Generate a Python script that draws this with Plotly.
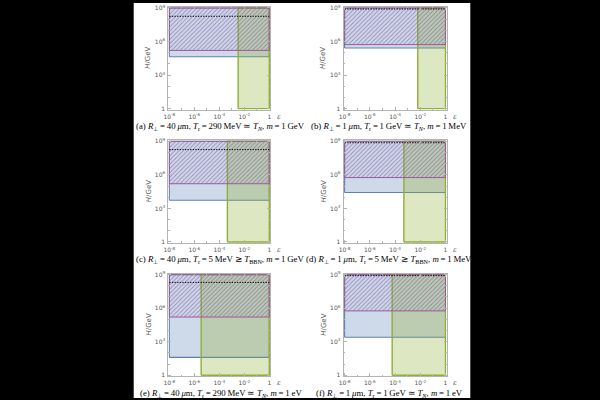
import plotly.graph_objects as go

# ---------------- data ----------------
panel_ids = ["a", "b", "c", "d", "e", "f"]
T = "\u2009"  # thin space
captions = [
    f"(a) <i>R</i><sub>⊥</sub>{T}={T}40{T}<i>μ</i>m, <i>T</i><sub>r</sub>{T}={T}290{T}MeV{T}≃{T}<i>T</i><sub><i>N</i></sub>, <i>m</i>{T}={T}1{T}GeV",
    f"(b) <i>R</i><sub>⊥</sub>{T}={T}1{T}<i>μ</i>m, <i>T</i><sub>r</sub>{T}={T}1{T}GeV{T}≃{T}<i>T</i><sub><i>N</i></sub>, <i>m</i>{T}={T}1{T}MeV",
    f"(c) <i>R</i><sub>⊥</sub>{T}={T}40{T}<i>μ</i>m, <i>T</i><sub>r</sub>{T}={T}5{T}MeV{T}≳{T}<i>T</i><sub>BBN</sub>, <i>m</i>{T}={T}1{T}GeV",
    f"(d) <i>R</i><sub>⊥</sub>{T}={T}1{T}<i>μ</i>m, <i>T</i><sub>r</sub>{T}={T}5{T}MeV{T}≳{T}<i>T</i><sub>BBN</sub>, <i>m</i>{T}={T}1{T}MeV",
    f"(e) <i>R</i><sub>⊥</sub>{T}={T}40{T}<i>μ</i>m, <i>T</i><sub>r</sub>{T}={T}290{T}MeV{T}≃{T}<i>T</i><sub><i>N</i></sub>, <i>m</i>{T}={T}1{T}eV",
    f"(f) <i>R</i><sub>⊥</sub>{T}={T}1{T}<i>μ</i>m, <i>T</i><sub>r</sub>{T}={T}1{T}GeV{T}≃{T}<i>T</i><sub><i>N</i></sub>, <i>m</i>{T}={T}1{T}eV",
]
eps_min, eps_max = 1e-8, 1.0
H_min, H_max = 1.0, 1e9
green_eps_lo = [3.2e-3, 6.3e-3, 4.4e-4, 5.0e-4, 3.5e-6, 5.9e-5]
blue_H_lo = [4.4e4, 2.6e5, 5.4e3, 2.6e4, 40.0, 2.5e3]
hatch_H_lo = [1.6e5, 5.3e5, 1.6e5, 5.7e5, 1.6e5, 5.7e5]
dotted_H = [1.8e8, 8.0e8, 1.8e8, 7.4e8, 2.0e8, 8.0e8]

x_tickvals = [1e-8, 1e-6, 1e-4, 1e-2, 1]
x_ticktext = ["10<sup>-8</sup>", "10<sup>-6</sup>", "10<sup>-4</sup>", "10<sup>-2</sup>", "1"]
x_minor = [1e-7, 1e-5, 1e-3, 1e-1]
y_tickvals = [1, 1e3, 1e6, 1e9]
y_ticktext = ["1", "10<sup>3</sup>", "10<sup>6</sup>", "10<sup>9</sup>"]
y_minor = [1e1, 1e2, 1e4, 1e5, 1e7, 1e8]

# ---------------- layout geometry (pixels of 600x400) ----------------
W, H = 600, 400
col_x = [(165, 268), (342, 446)]
row_y = [(4, 108), (139, 243), (274, 378)]

BLUE = "#5E81B5"
GREEN = "#8FB032"
PURPLE = "#A4579E"
FRAME = "#B4B4B4"

fig = go.Figure()


def rect(x0, x1, y0, y1):
    return [x0, x1, x1, x0, x0], [y0, y0, y1, y1, y0]


annotations = []
for i, pid in enumerate(panel_ids):
    r, c = divmod(i, 2)
    ax = "" if i == 0 else str(i + 1)
    xref, yref = "x" + ax, "y" + ax
    # blue region
    xs, ys = rect(eps_min, eps_max, blue_H_lo[i], H_max)
    fig.add_trace(go.Scatter(x=xs, y=ys, xaxis=xref, yaxis=yref, mode="lines",
                             fill="toself", fillcolor="rgba(94,129,181,0.30)",
                             line=dict(color=BLUE, width=1.1), hoverinfo="skip"))
    # green region
    xs, ys = rect(green_eps_lo[i], eps_max, H_min, H_max)
    fig.add_trace(go.Scatter(x=xs, y=ys, xaxis=xref, yaxis=yref, mode="lines",
                             fill="toself", fillcolor="rgba(143,176,50,0.30)",
                             line=dict(color=GREEN, width=1.4), hoverinfo="skip"))
    # hatched region
    xs, ys = rect(eps_min, eps_max, hatch_H_lo[i], H_max)
    fig.add_trace(go.Scatter(x=xs, y=ys, xaxis=xref, yaxis=yref, mode="lines",
                             fill="toself", fillcolor="rgba(0,0,0,0)",
                             fillpattern=dict(shape="/", size=3, solidity=0.3,
                                              fgcolor="#7A55A0", bgcolor="rgba(0,0,0,0)",
                                              fgopacity=0.6),
                             line=dict(color=PURPLE, width=1.0), hoverinfo="skip"))
    # dotted line
    fig.add_trace(go.Scatter(x=[eps_min, eps_max], y=[dotted_H[i], dotted_H[i]],
                             xaxis=xref, yaxis=yref, mode="lines",
                             line=dict(color="black", width=1.0, dash="1.3px,1.3px"),
                             hoverinfo="skip"))

    x0p, x1p = col_x[c]
    y0p, y1p = row_y[r]
    common = dict(showline=True, mirror="ticks", linecolor=FRAME, linewidth=1,
                  ticks="inside", ticklen=3, tickcolor=FRAME, showgrid=False,
                  zeroline=False, tickfont=dict(family="DejaVu Sans", size=6, color="#555"),
                  type="log")
    fig.layout["xaxis" + ax] = dict(
        common, domain=[x0p / W, x1p / W], anchor=yref, range=[-8.08, 0.08],
        tickmode="array", tickvals=x_tickvals, ticktext=x_ticktext, ticklabelstandoff=1,
        minor=dict(ticks="inside", ticklen=1.5, tickcolor=FRAME, tickvals=x_minor))
    fig.layout["yaxis" + ax] = dict(
        common, domain=[1 - y1p / H, 1 - y0p / H], anchor=xref, range=[-0.09, 9.09],
        tickmode="array", tickvals=y_tickvals, ticktext=y_ticktext, ticklabelstandoff=1,
        minor=dict(ticks="inside", ticklen=1.5, tickcolor=FRAME, tickvals=y_minor))

    # labels
    annotations.append(dict(text="<i>H</i>/GeV", xref="paper", yref="paper",
                            x=(x0p - 20) / W, y=1 - (y0p + y1p) / 2 / H, textangle=-90,
                            showarrow=False, font=dict(family="DejaVu Sans", size=7, color="#555"),
                            xanchor="center", yanchor="middle"))
    annotations.append(dict(text="<i>ε</i>", xref="paper", yref="paper",
                            x=(x1p + 9) / W, y=1 - (y1p + 7) / H, showarrow=False,
                            font=dict(family="DejaVu Serif", size=7, color="#555"),
                            xanchor="center", yanchor="middle"))
    cap_cx = [218, 388][c]
    annotations.append(dict(text=captions[i], xref="paper", yref="paper",
                            x=cap_cx / W, y=1 - (y1p + 17) / H, showarrow=False,
                            font=dict(family="Liberation Serif", size=8.8, color="black"),
                            xanchor="center", yanchor="middle"))

fig.update_layout(
    width=W, height=H, margin=dict(l=0, r=0, t=0, b=0),
    paper_bgcolor="black", plot_bgcolor="white", showlegend=False,
    annotations=annotations,
    shapes=[dict(type="rect", xref="paper", yref="paper", x0=130 / W, x1=470 / W,
                 y0=0, y1=1, fillcolor="white", line=dict(width=0), layer="below")],
)

fig.write_html("out.html")
